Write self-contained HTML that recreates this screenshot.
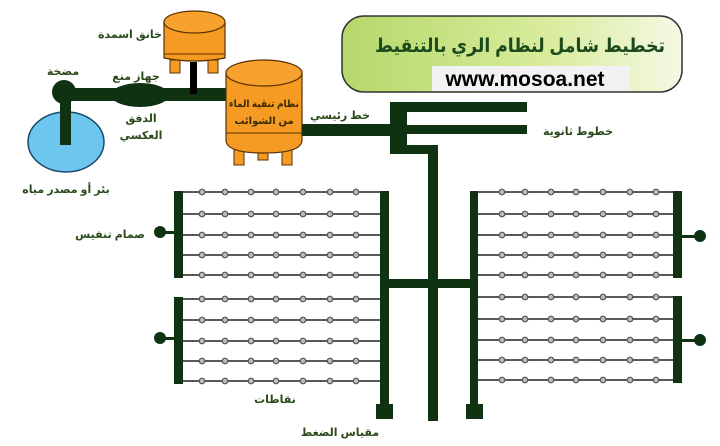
<!DOCTYPE html>
<html><head><meta charset="utf-8"><style>
html,body{margin:0;padding:0;background:#fff;}
svg{display:block}
text{font-family:"Liberation Sans","DejaVu Sans",sans-serif;font-weight:bold;}
</style></head><body>
<svg width="720" height="446" viewBox="0 0 720 446" xmlns="http://www.w3.org/2000/svg">
<defs>
<linearGradient id="g" x1="0" x2="1" y1="0" y2="0">
<stop offset="0" stop-color="#b5d86a"/><stop offset="0.6" stop-color="#d8ec9c"/><stop offset="1" stop-color="#f4f9e4"/>
</linearGradient>
<g id="rowL">
<circle cx="202" cy="0" r="2.8"/><circle cx="225" cy="0" r="2.8"/><circle cx="251" cy="0" r="2.8"/><circle cx="276" cy="0" r="2.8"/><circle cx="303" cy="0" r="2.8"/><circle cx="330" cy="0" r="2.8"/><circle cx="356" cy="0" r="2.8"/>
</g>
</defs>
<!-- title box -->
<rect x="342" y="16" width="340" height="76" rx="22" fill="url(#g)" stroke="#333" stroke-width="1.5"/>
<text x="520" y="52" text-anchor="middle" font-size="19" fill="#1d4a1d" textLength="290" lengthAdjust="spacingAndGlyphs">تخطيط شامل لنظام الري بالتنقيط</text>
<rect x="432" y="66" width="198" height="25" fill="#f2f2f4"/>
<text x="525" y="86" text-anchor="middle" font-size="21" fill="#000">www.mosoa.net</text>

<!-- well -->
<ellipse cx="66" cy="142" rx="38" ry="30" fill="#6cc6ee" stroke="#1b4a6a" stroke-width="1.5"/>
<rect x="60" y="90" width="11" height="55" fill="#0f3312"/>
<rect x="63" y="88" width="165" height="13" fill="#0f3312"/>
<circle cx="64" cy="92" r="12" fill="#0f3312"/>
<ellipse cx="140" cy="95" rx="29" ry="12" fill="#0f3312"/>
<!-- fertilizer tank -->
<rect x="190" y="62" width="7" height="32" fill="#000"/>
<rect x="170" y="60" width="10" height="13" fill="#f59a23" stroke="#5a3000"/>
<rect x="208" y="60" width="10" height="13" fill="#f59a23" stroke="#5a3000"/>
<path d="M164 22 L164 58 Q194 64 225 58 L225 22 Z" fill="#f59a23" stroke="#5a3000" stroke-width="1.2"/>
<line x1="164" y1="54" x2="225" y2="54" stroke="#5a3000"/>
<ellipse cx="194.5" cy="22" rx="30.5" ry="11" fill="#f7a22e" stroke="#5a3000" stroke-width="1.2"/>
<!-- filter tank -->
<rect x="234" y="145" width="10" height="20" fill="#f59a23" stroke="#5a3000"/>
<rect x="258" y="148" width="10" height="12" fill="#f59a23" stroke="#5a3000"/>
<rect x="282" y="145" width="10" height="20" fill="#f59a23" stroke="#5a3000"/>
<path d="M226 72 L226 140 Q226 153 264 153 Q302 153 302 140 L302 72 Z" fill="#f59a23" stroke="#5a3000" stroke-width="1.2"/>
<line x1="226" y1="133" x2="302" y2="133" stroke="#5a3000"/>
<ellipse cx="264" cy="73" rx="38" ry="13" fill="#f7a22e" stroke="#5a3000" stroke-width="1.2"/>
<text x="264" y="107" text-anchor="middle" font-size="10" fill="#3a2a00" textLength="70" lengthAdjust="spacingAndGlyphs">نظام تنقية الماء</text>
<text x="264" y="124" text-anchor="middle" font-size="10" fill="#3a2a00">من الشوائب</text>
<!-- main line -->
<rect x="302" y="124" width="98" height="12" fill="#0f3312"/>
<rect x="390" y="102" width="17" height="52" fill="#0f3312"/>
<rect x="400" y="102" width="127" height="10" fill="#0f3312"/>
<rect x="400" y="125" width="127" height="9" fill="#0f3312"/>
<rect x="390" y="145" width="47" height="9" fill="#0f3312"/>
<rect x="428" y="145" width="10" height="276" fill="#0f3312"/>
<rect x="385" y="279" width="90" height="9" fill="#0f3312"/>

<g stroke="#222" stroke-width="1.5">
<line x1="176" y1="192" x2="382" y2="192"/><line x1="176" y1="214" x2="382" y2="214"/><line x1="176" y1="235" x2="382" y2="235"/><line x1="176" y1="255" x2="382" y2="255"/><line x1="176" y1="275" x2="382" y2="275"/>
<line x1="176" y1="299" x2="382" y2="299"/><line x1="176" y1="320" x2="382" y2="320"/><line x1="176" y1="341" x2="382" y2="341"/><line x1="176" y1="361" x2="382" y2="361"/><line x1="176" y1="381" x2="382" y2="381"/>
<line x1="478" y1="192" x2="676" y2="192"/><line x1="478" y1="214" x2="676" y2="214"/><line x1="478" y1="235" x2="676" y2="235"/><line x1="478" y1="255" x2="676" y2="255"/><line x1="478" y1="275" x2="676" y2="275"/>
<line x1="478" y1="297" x2="676" y2="297"/><line x1="478" y1="319" x2="676" y2="319"/><line x1="478" y1="340" x2="676" y2="340"/><line x1="478" y1="360" x2="676" y2="360"/><line x1="478" y1="380" x2="676" y2="380"/>
</g>
<g fill="#bbb" stroke="#555" stroke-width="1.2">
<use href="#rowL" y="192"/><use href="#rowL" y="214"/><use href="#rowL" y="235"/><use href="#rowL" y="255"/><use href="#rowL" y="275"/>
<use href="#rowL" y="299"/><use href="#rowL" y="320"/><use href="#rowL" y="341"/><use href="#rowL" y="361"/><use href="#rowL" y="381"/>
<use href="#rowL" x="300" y="192"/><use href="#rowL" x="300" y="214"/><use href="#rowL" x="300" y="235"/><use href="#rowL" x="300" y="255"/><use href="#rowL" x="300" y="275"/>
<use href="#rowL" x="300" y="297"/><use href="#rowL" x="300" y="319"/><use href="#rowL" x="300" y="340"/><use href="#rowL" x="300" y="360"/><use href="#rowL" x="300" y="380"/>
</g>
<g fill="#0f3312">
<rect x="174" y="191" width="9" height="87"/>
<rect x="174" y="297" width="9" height="87"/>
<rect x="380" y="191" width="9" height="218"/>
<rect x="376" y="404" width="17" height="15"/>
<rect x="470" y="191" width="8" height="218"/>
<rect x="466" y="404" width="17" height="15"/>
<rect x="673" y="191" width="9" height="87"/>
<rect x="673" y="296" width="9" height="87"/>
<rect x="164" y="231" width="12" height="3"/>
<circle cx="160" cy="232" r="6"/>
<rect x="164" y="337" width="12" height="3"/>
<circle cx="160" cy="338" r="6"/>
<rect x="681" y="235" width="16" height="3"/>
<circle cx="700" cy="236" r="6"/>
<rect x="681" y="339" width="16" height="3"/>
<circle cx="700" cy="340" r="6"/>
</g>

<g fill="#2a4a1a" font-size="11" text-anchor="middle">
<text x="130" y="38">خانق اسمدة</text>
<text x="63" y="75">مضخة</text>
<text x="136" y="80">جهاز منع</text>
<text x="141" y="122">الدفق</text>
<text x="141" y="139">العكسي</text>
<text x="66" y="193">بئر أو مصدر مياه</text>
<text x="340" y="119">خط رئيسي</text>
<text x="578" y="135">خطوط ثانوية</text>
<text x="110" y="238">صمام تنفيس</text>
<text x="275" y="403">نقاطات</text>
<text x="340" y="436">مقياس الضغط</text>
</g>
</svg>
</body></html>
